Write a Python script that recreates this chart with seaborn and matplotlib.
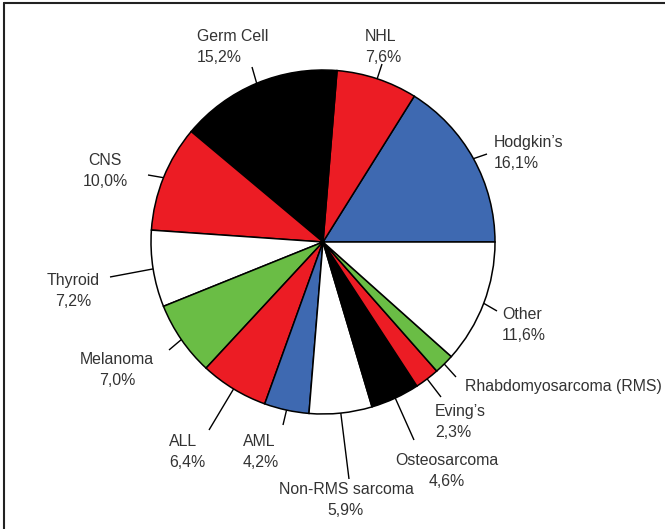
import numpy as np
import matplotlib
matplotlib.use("Agg")
import matplotlib.pyplot as plt
import seaborn as sns

# data
labels = ["Hodgkin\u2019s", "NHL", "Germ Cell", "CNS", "Thyroid", "Melanoma",
          "ALL", "AML", "Non-RMS sarcoma", "Osteosarcoma", "Eving\u2019s",
          "Rhabdomyosarcoma (RMS)", "Other"]
shares = [16.1, 7.6, 15.2, 10.0, 7.2, 7.0, 6.4, 4.2, 5.9, 4.6, 2.3, 1.9, 11.6]
show_pct = [True] * 11 + [False, True]

# styling
BLUE, RED, GREEN, BLACK, WHITE = "#3e69b1", "#ec1c24", "#6abd45", "#000000", "#ffffff"
colors = [BLUE, RED, BLACK, RED, WHITE, GREEN, RED, BLUE, WHITE, BLACK, RED, GREEN, WHITE]

sns.set_theme(style="white")
plt.rcParams['font.family'] = ['Liberation Sans', 'DejaVu Sans']

W, H = 665, 529
fig = plt.figure(figsize=(W / 100, H / 100), dpi=100)
ax = fig.add_axes([0, 0, 1, 1])

cx, cy, R = 323, H - 242, 172
wedges, _ = ax.pie(shares, colors=colors, startangle=0, counterclock=True,
                   center=(cx, cy), radius=R,
                   wedgeprops=dict(edgecolor="black", linewidth=1.1))
ax.set_xlim(0, W)
ax.set_ylim(0, H)
ax.set_aspect("equal")
ax.axis("off")

# label layout (pixel positions): leader end, text anchor, alignment
layout = {
    "Hodgkin\u2019s": ((487, 154), (494, 153), "left"),
    "NHL": ((382, 64), (365, 47), "left"),
    "Germ Cell": ((252, 67), (197, 47), "left"),
    "CNS": ((148, 175), (105, 171), "center"),
    "Thyroid": ((110, 277), (73, 291), "center"),
    "Melanoma": ((169, 350), (117, 370), "center"),
    "ALL": ((209, 430), (169, 452), "left"),
    "AML": ((283, 425), (243, 452), "left"),
    "Non-RMS sarcoma": ((349, 479), (346, 500), "center"),
    "Osteosarcoma": ((414, 440), (447, 471), "center"),
    "Eving\u2019s": ((441, 397), (435, 422), "left"),
    "Rhabdomyosarcoma (RMS)": ((456, 377), (465, 387), "left"),
    "Other": ((497, 311), (502, 325), "left"),
}

for w, lab, val, pct in zip(wedges, labels, shares, show_pct):
    mid = np.deg2rad((w.theta1 + w.theta2) / 2)
    x0, y0 = cx + R * np.cos(mid), cy + R * np.sin(mid)
    (ex, ey), (tx, ty), ha = layout[lab]
    ax.plot([x0, ex], [y0, H - ey], color="black", lw=1.0,
            solid_capstyle="butt", zorder=3)
    txt = lab + ("\n" + f"{val:.1f}%".replace(".", ",") if pct else "")
    ax.text(tx, H - ty, txt, ha=ha, va="center", multialignment=ha,
            fontsize=11.4, color="#333333", linespacing=1.42)

# frame edges (top and left) of the figure panel
fig.add_artist(plt.Line2D([4 / W, 1], [1 - 3 / H, 1 - 3 / H],
                          transform=fig.transFigure, color="#222222", lw=1.5))
fig.add_artist(plt.Line2D([4 / W, 4 / W], [0, 1 - 3 / H],
                          transform=fig.transFigure, color="#222222", lw=1.5))

fig.savefig("out.png", dpi=100)
